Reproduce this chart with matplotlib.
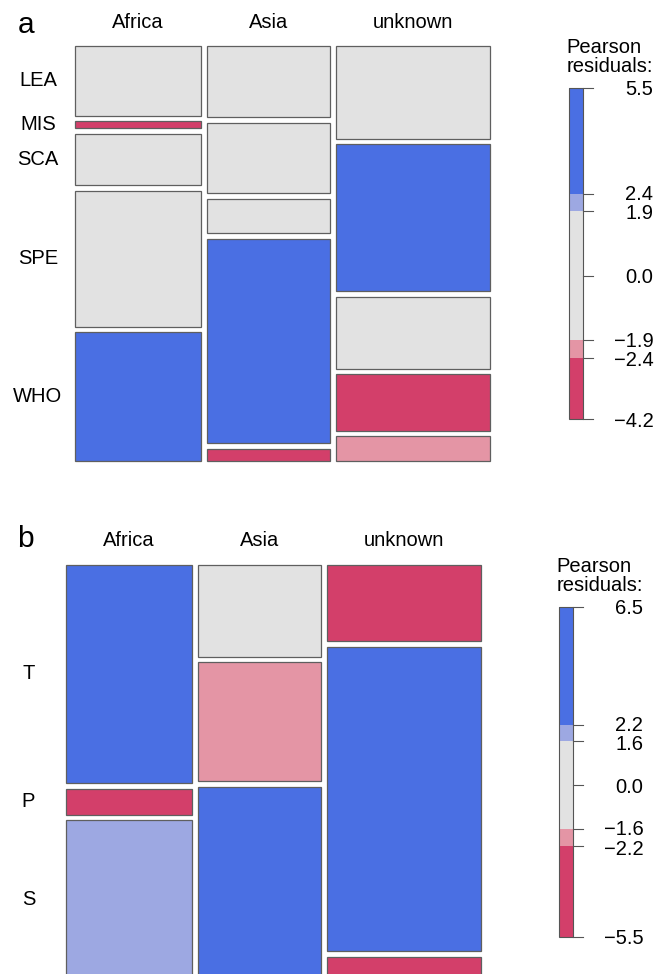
import matplotlib
matplotlib.use("Agg")
import matplotlib.pyplot as plt
from matplotlib.patches import Rectangle
from matplotlib.transforms import blended_transform_factory, offset_copy

plt.rcParams["font.family"] = ["Liberation Sans", "DejaVu Sans"]

# data
regions = ["Africa", "Asia", "unknown"]
region_share = [31.2, 30.6, 38.2]

# panel a: share (%) of each category inside each region
cats_a = ["LEA", "MIS", "SCA", "SPE", "WHO"]
africa_a = [17.7, 1.8, 13.1, 34.6, 32.8]
asia_a = [18.1, 18.0, 8.7, 52.2, 3.0]
unknown_a = [23.6, 37.4, 18.4, 14.4, 6.2]
resid_africa_a = [-0.5, -4.2, -0.2, 0.5, 5.5]
resid_asia_a = [-0.4, -0.6, -1.4, 3.6, -3.0]
resid_unknown_a = [0.9, 4.3, 1.4, -3.7, -2.3]
cut_a = [1.9, 2.4]

# panel b
cats_b = ["T", "P", "S"]
africa_b = [54.2, 6.4, 39.4]
asia_b = [22.8, 29.5, 47.7]
unknown_b = [19.0, 75.4, 5.6]
resid_africa_b = [4.3, -5.5, 2.0]
resid_asia_b = [-1.5, -1.7, 3.5]
resid_unknown_b = [-2.5, 6.5, -5.0]
cut_b = [1.6, 2.2]

BLUE = "#4A6FE3"
LBLUE = "#9DA8E2"
GREY = "#E2E2E2"
PINK = "#E495A5"
RED = "#D33F6A"
EDGE = "#5f5f5f"
FS = 14.5


def shade(r, lo, hi):
    if r > hi:
        return BLUE
    if r > lo:
        return LBLUE
    if r >= -lo:
        return GREY
    if r >= -hi:
        return PINK
    return RED


def mosaic(ax, shares, resids, cats, cut):
    gap = 0.0138
    lo, hi = cut
    wtot = 1 - gap * (len(regions) - 1)
    xlab = blended_transform_factory(ax.transAxes, ax.transData)
    ylab = blended_transform_factory(ax.transData, ax.transAxes)
    x = 0
    for j, reg in enumerate(regions):
        w = region_share[j] / sum(region_share) * wtot
        col = shares[j]
        htot = 1 - gap * (len(cats) - 1)
        y = 0
        for i, c in enumerate(cats):
            h = col[i] / sum(col) * htot
            ax.add_patch(Rectangle((x, y), w, h, facecolor=shade(resids[j][i], lo, hi),
                                   edgecolor=EDGE, linewidth=0.9, clip_on=False))
            if j == 0:
                ax.text(-0.0904, y + h / 2, c, transform=xlab, ha="center", va="center", fontsize=FS)
            y += h + gap
        ax.text(x + w / 2, 1.057, reg, transform=ylab, ha="center", va="center", fontsize=FS)
        x += w + gap
    ax.set_xlim(0, 1)
    ax.set_ylim(1, 0)
    ax.axis("off")


def legend(ax, resids, cut):
    lo, hi = cut
    flat = [v for col in resids for v in col]
    rmin, rmax = min(flat), max(flat)
    bands = [(rmin, -hi, RED), (-hi, -lo, PINK), (-lo, lo, GREY), (lo, hi, LBLUE), (hi, rmax, BLUE)]
    for a, b, c in bands:
        ax.add_patch(Rectangle((0, a), 1, b - a, facecolor=c, edgecolor="none"))
    ax.add_patch(Rectangle((0, rmin), 1, rmax - rmin, facecolor="none", edgecolor="#555555",
                           linewidth=0.8, clip_on=False))
    ax.set_xlim(0, 1)
    ax.set_ylim(rmin, rmax)
    ax.axis("off")
    # pixels per residual unit, to keep close labels from running into each other
    hpx = ax.get_position().height * ax.figure.get_figheight() * ax.figure.dpi
    ppu = hpx / (rmax - rmin)
    sep = 19.5 / ppu
    ticks = [rmin, -hi, -lo, 0.0, lo, hi, rmax]
    pos = list(ticks)
    for a, b in [(1, 2), (4, 5)]:
        if pos[b] - pos[a] < sep:
            mid = (pos[a] + pos[b]) / 2
            pos[a], pos[b] = mid - sep / 2, mid + sep / 2
    lab_tr = offset_copy(ax.transData, fig=ax.figure, x=0, y=-2, units="dots")
    for t, p in zip(ticks, pos):
        ax.plot([1, 1.67], [t, t], color="#555555", linewidth=0.8, clip_on=False)
        ax.text(6.0, p, f"{t:.1f}".replace("-", "\u2212"), transform=lab_tr,
                ha="right", va="center", fontsize=FS)
    t1 = offset_copy(ax.transAxes, fig=ax.figure, x=-3, y=16, units="dots")
    t2 = offset_copy(ax.transAxes, fig=ax.figure, x=-3, y=34.5, units="dots")
    ax.text(0, 1, "residuals:", transform=t1, ha="left", va="baseline", fontsize=FS)
    ax.text(0, 1, "Pearson", transform=t2, ha="left", va="baseline", fontsize=FS)


fig = plt.figure(figsize=(6.59, 9.74), dpi=100)

ax_a = fig.add_axes([0.1143, 0.5270, 0.6293, 0.4255])
mosaic(ax_a, [africa_a, asia_a, unknown_a],
       [resid_africa_a, resid_asia_a, resid_unknown_a], cats_a, cut_a)
leg_a = fig.add_axes([0.8639, 0.5698, 0.02124, 0.3401])
legend(leg_a, [resid_africa_a, resid_asia_a, resid_unknown_a], cut_a)

ax_b = fig.add_axes([0.1002, -0.0054, 0.6293, 0.4257])
mosaic(ax_b, [africa_b, asia_b, unknown_b],
       [resid_africa_b, resid_asia_b, resid_unknown_b], cats_b, cut_b)
leg_b = fig.add_axes([0.8487, 0.0383, 0.02124, 0.3388])
legend(leg_b, [resid_africa_b, resid_asia_b, resid_unknown_b], cut_b)

fig.text(17.3 / 659, 1 - 33.3 / 974, "a", fontsize=21.5, va="baseline")
fig.text(17.3 / 659, 1 - 546.7 / 974, "b", fontsize=21.5, va="baseline")

plt.savefig("out.png", dpi=100)
plt.close(fig)
